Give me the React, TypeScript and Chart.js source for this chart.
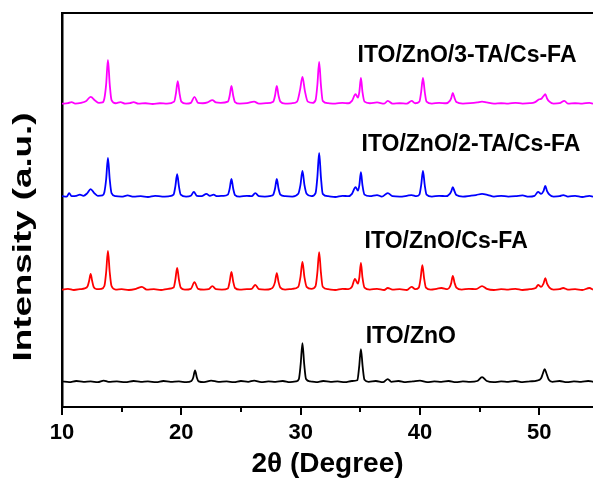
import { useEffect, useRef } from "react";
import { Chart, registerables } from "chart.js";

Chart.register(...registerables);

const FONT = '"Liberation Sans", Arial, Helvetica, sans-serif';

// Sample names (bottom to top) and their trace colours
const SERIES_NAMES = ["ITO/ZnO", "ITO/ZnO/Cs-FA", "ITO/ZnO/2-TA/Cs-FA", "ITO/ZnO/3-TA/Cs-FA"];
const SERIES_COLORS = ["#000000", "#ff0000", "#0000ff", "#ff00ff"];

// Vertical offset applied to each pattern so the traces are stacked
const STACK_OFFSETS = [63, 297, 533, 769];

// Diffraction patterns: [2θ (deg), relative intensity (a.u.)]
const ITO_ZNO: [number, number][] = [
  [10.0, 2], [10.6, 0], [11.2, 3], [11.8, 1], [12.4, 2], [13.0, 0], [13.5, 4], [13.9, 1], [14.6, 2], [15.3, 0],
  [16.0, 3], [16.6, 1], [17.2, 2], [17.9, 0], [18.5, 3], [19.1, 1], [19.8, 2], [20.4, 0], [20.85, 3], [21.0, 12], [21.15, 30],
  [21.3, 12], [21.45, 2], [21.9, 0], [22.5, 4], [23.1, 1], [23.8, 2], [24.4, 0], [25.0, 3], [25.6, 1], [26.1, 4], [26.7, 0],
  [27.3, 2], [27.9, 1], [28.5, 3], [29.1, 0], [29.6, 2], [29.85, 8], [30.0, 45], [30.15, 99], [30.3, 45], [30.45, 8], [30.8, 2], [31.3, 0],
  [31.9, 3], [32.5, 1], [33.1, 2], [33.7, 0], [34.3, 3], [34.75, 5], [34.9, 38], [35.05, 84], [35.2, 38], [35.35, 6], [35.7, 1], [36.3, 3],
  [36.9, 0], [37.3, 8], [37.6, 1], [38.2, 3], [38.8, 0], [39.4, 2], [40.0, 4], [40.6, 0], [41.2, 2], [41.8, 1],
  [42.4, 3], [43.0, 0], [43.6, 2], [44.2, 1], [44.8, 3], [45.2, 13], [45.6, 3], [46.2, 0], [46.8, 2], [47.4, 1],
  [48.0, 3], [48.6, 0], [49.2, 2], [49.8, 4], [50.15, 10], [50.3, 22], [50.45, 33], [50.6, 22], [50.8, 6], [51.1, 1], [51.7, 3], [52.3, 0],
  [52.9, 2], [53.5, 1], [54.1, 3], [54.5, 1],
];

const ITO_ZNO_CSFA: [number, number][] = [
  [10.0, 1], [10.5, 3], [11.0, 0], [11.5, 2], [11.9, 4], [12.15, 10], [12.28, 24], [12.4, 41], [12.52, 24], [12.65, 8], [12.9, 2], [13.3, 3],
  [13.55, 10], [13.7, 45], [13.85, 99], [14.0, 45], [14.15, 10], [14.5, 1], [15.0, 2], [15.6, 0], [16.2, 3], [16.7, 8], [17.1, 1], [17.7, 2],
  [18.3, 0], [18.9, 3], [19.35, 6], [19.5, 26], [19.65, 56], [19.8, 26], [19.95, 6], [20.3, 1], [20.8, 3], [21.1, 20], [21.4, 3], [21.9, 1],
  [22.3, 2], [22.6, 10], [22.9, 2], [23.4, 1], [23.9, 4], [24.05, 21], [24.2, 46], [24.35, 21], [24.5, 5], [24.9, 1], [25.5, 2], [25.9, 3],
  [26.2, 13], [26.5, 2], [27.0, 1], [27.5, 3], [27.7, 8], [27.85, 20], [28.0, 43], [28.15, 20], [28.3, 6], [28.7, 1], [29.3, 3], [29.8, 8],
  [29.98, 32], [30.15, 71], [30.32, 32], [30.5, 8], [30.9, 3], [31.25, 10], [31.4, 44], [31.55, 96], [31.7, 44], [31.85, 8], [32.3, 2], [32.9, 0], [33.5, 3], [34.0, 2],
  [34.3, 8], [34.55, 28], [34.8, 16], [34.92, 32], [35.05, 69], [35.18, 32], [35.35, 6], [35.8, 1], [36.4, 3], [37.0, 0], [37.3, 5], [37.7, 1],
  [38.3, 2], [38.9, 0], [39.3, 8], [39.6, 2], [39.9, 6], [40.05, 29], [40.2, 63], [40.35, 29], [40.5, 6], [40.9, 1], [41.4, 3], [41.8, 5],
  [42.3, 2], [42.5, 8], [42.62, 18], [42.75, 36], [42.9, 18], [43.05, 6], [43.5, 1], [44.1, 3], [44.7, 2], [45.2, 10], [45.6, 3], [46.2, 0],
  [46.8, 2], [47.4, 1], [48.0, 3], [48.6, 0], [49.2, 2], [49.7, 5], [49.9, 13], [50.15, 8], [50.35, 16], [50.5, 30], [50.65, 16], [50.85, 6],
  [51.2, 1], [51.7, 2], [52.0, 5], [52.4, 1], [53.0, 2], [53.6, 0], [54.2, 5], [54.5, 1],
];

const ITO_ZNO_2TA_CSFA: [number, number][] = [
  [10.0, 2], [10.4, 1], [10.6, 10], [10.8, 2], [11.2, 3], [11.5, 6], [11.8, 3], [12.1, 9], [12.4, 20], [12.7, 10],
  [13.0, 3], [13.4, 4], [13.55, 12], [13.7, 45], [13.85, 99], [14.0, 45], [14.15, 10], [14.5, 2], [15.0, 1], [15.5, 4], [16.0, 1], [16.6, 2],
  [17.2, 0], [17.8, 3], [18.4, 1], [19.0, 2], [19.35, 6], [19.5, 27], [19.65, 58], [19.8, 27], [19.95, 6], [20.4, 1], [20.8, 3], [21.05, 13],
  [21.3, 3], [21.7, 2], [22.1, 8], [22.4, 3], [22.7, 6], [23.0, 2], [23.5, 3], [23.9, 6], [24.05, 21], [24.2, 46], [24.35, 21], [24.5, 5],
  [24.9, 1], [25.5, 3], [25.9, 2], [26.2, 10], [26.5, 2], [27.0, 1], [27.5, 3], [27.7, 6], [27.85, 21], [28.0, 46], [28.15, 21], [28.3, 6],
  [28.7, 2], [29.3, 1], [29.8, 8], [29.98, 30], [30.15, 66], [30.32, 30], [30.5, 8], [30.9, 2], [31.25, 10], [31.4, 50], [31.55, 112], [31.7, 50], [31.85, 8], [32.3, 2],
  [32.9, 0], [33.5, 3], [34.0, 2], [34.3, 8], [34.6, 25], [34.8, 16], [34.92, 30], [35.05, 63], [35.18, 30], [35.35, 6], [35.8, 2], [36.4, 5],
  [36.8, 1], [37.3, 10], [37.7, 2], [38.3, 1], [38.9, 3], [39.3, 5], [39.7, 2], [39.95, 6], [40.1, 30], [40.25, 66], [40.4, 30], [40.55, 6],
  [41.0, 1], [41.6, 3], [42.2, 2], [42.5, 8], [42.62, 14], [42.75, 25], [42.9, 14], [43.05, 5], [43.6, 1], [44.2, 3], [44.7, 5], [45.2, 8],
  [45.7, 5], [46.2, 1], [46.8, 3], [47.4, 1], [48.0, 2], [48.6, 4], [49.1, 1], [49.6, 3], [49.9, 13], [50.15, 8], [50.35, 15],
  [50.5, 28], [50.65, 15], [50.85, 6], [51.2, 1], [51.7, 2], [52.0, 5], [52.4, 1], [53.0, 3], [53.6, 0], [54.2, 3], [54.5, 1],
];

const ITO_ZNO_3TA_CSFA: [number, number][] = [
  [10.0, 1], [10.5, 2], [10.8, 5], [11.1, 1], [11.6, 3], [12.0, 7], [12.4, 18], [12.8, 8], [13.1, 3], [13.4, 4],
  [13.55, 14], [13.7, 50], [13.85, 112], [14.0, 50], [14.15, 10], [14.5, 2], [14.9, 5], [15.3, 1], [15.7, 2], [16.0, 5], [16.4, 1], [17.0, 2],
  [17.6, 0], [18.2, 2], [18.8, 1], [19.4, 6], [19.55, 27], [19.7, 58], [19.85, 27], [20.0, 6], [20.4, 1], [20.8, 3], [21.1, 18], [21.4, 3],
  [21.8, 2], [22.2, 4], [22.6, 10], [22.9, 4], [23.3, 3], [23.9, 6], [24.05, 21], [24.2, 46], [24.35, 21], [24.5, 5], [24.9, 1], [25.5, 2],
  [26.1, 6], [26.5, 1], [27.1, 2], [27.7, 6], [27.85, 21], [28.0, 46], [28.15, 21], [28.3, 6], [28.7, 1], [29.3, 2], [29.7, 6], [29.95, 36],
  [30.15, 69], [30.35, 34], [30.6, 6], [31.0, 3], [31.25, 10], [31.4, 48], [31.55, 107], [31.7, 48], [31.85, 8], [32.3, 2], [32.9, 1], [33.5, 3],
  [34.0, 2], [34.3, 8], [34.6, 25], [34.8, 16], [34.92, 31], [35.05, 66], [35.18, 31], [35.35, 6], [35.8, 2], [36.4, 4], [37.0, 1], [37.3, 8],
  [37.7, 1], [38.3, 2], [38.9, 1], [39.3, 8], [39.6, 2], [39.95, 6], [40.1, 31], [40.25, 66], [40.4, 31], [40.55, 6], [41.0, 1], [41.6, 3],
  [42.2, 2], [42.5, 8], [42.62, 15], [42.75, 28], [42.9, 15], [43.05, 5], [43.6, 1], [44.2, 2], [44.8, 4], [45.2, 6], [45.6, 4], [46.2, 1],
  [46.8, 2], [47.4, 1], [48.0, 3], [48.6, 1], [49.2, 2], [49.6, 4], [50.0, 12], [50.2, 14], [50.35, 20], [50.5, 25], [50.65, 14], [50.85, 6],
  [51.2, 1], [51.7, 2], [52.1, 8], [52.4, 1], [53.0, 2], [53.6, 1], [54.2, 3], [54.5, 1],
];

const PATTERNS = [ITO_ZNO, ITO_ZNO_CSFA, ITO_ZNO_2TA_CSFA, ITO_ZNO_3TA_CSFA];

// Axis ticks (2θ)
const X_TICKS = [10, 20, 30, 40, 50];
const X_MINOR_TICKS = [15, 25, 35, 45];

// Where each sample name is written, in data units: [2θ of text start, intensity of text centre]
const LABEL_ANCHORS: [number, number][] = [
  [35.45, 178],
  [35.36, 419],
  [35.1, 665],
  [34.77, 891],
];

const xrdDecorations = {
  id: "xrdDecorations",
  afterDraw(chart: any) {
    const { ctx, chartArea } = chart;
    const xs = chart.scales.x;
    const ys = chart.scales.y;
    ctx.save();
    ctx.strokeStyle = "#000";
    ctx.fillStyle = "#000";

    // top frame line
    ctx.lineWidth = 2;
    ctx.beginPath();
    ctx.moveTo(chartArea.left - 1, chartArea.top);
    ctx.lineTo(chartArea.right, chartArea.top);
    ctx.stroke();

    // outward major / minor ticks on the 2θ axis
    const drawTick = (v: number, len: number) => {
      const px = Math.round(xs.getPixelForValue(v));
      ctx.beginPath();
      ctx.moveTo(px, chartArea.bottom);
      ctx.lineTo(px, chartArea.bottom + len);
      ctx.stroke();
    };
    X_TICKS.forEach((v) => drawTick(v, 8));
    X_MINOR_TICKS.forEach((v) => drawTick(v, 5));

    // sample names next to each trace
    ctx.font = `bold 23px ${FONT}`;
    ctx.textAlign = "left";
    ctx.textBaseline = "middle";
    chart.data.datasets.forEach((ds: any, i: number) => {
      const [ax, ay] = LABEL_ANCHORS[i];
      ctx.fillText(ds.label, xs.getPixelForValue(ax), ys.getPixelForValue(ay));
    });

    // vertical axis title
    const title = "Intensity (a.u.)";
    ctx.font = `bold 25px ${FONT}`;
    const w = ctx.measureText(title).width;
    const targetLen = 249;
    ctx.translate(24, chartArea.top + 224);
    ctx.rotate(-Math.PI / 2);
    ctx.scale(targetLen / w, 1);
    ctx.textAlign = "center";
    ctx.fillText(title, 0, 0);
    ctx.restore();
  },
};

export default function App() {
  const canvasRef = useRef<HTMLCanvasElement | null>(null);

  useEffect(() => {
    const canvas = canvasRef.current;
    if (!canvas) return;

    const datasets = PATTERNS.map((pattern, i) => ({
      label: SERIES_NAMES[i],
      data: pattern.map(([x, y]) => ({ x, y: y + STACK_OFFSETS[i] })),
      borderColor: SERIES_COLORS[i],
      backgroundColor: SERIES_COLORS[i],
      borderWidth: 1.8,
      pointRadius: 0,
      cubicInterpolationMode: "monotone" as const,
      fill: false,
    }));

    const chart = new Chart(canvas, {
      type: "line",
      data: { datasets },
      options: {
        animation: false,
        responsive: false,
        maintainAspectRatio: false,
        layout: { padding: { top: 13, right: 0, left: 0, bottom: 0 } },
        plugins: {
          legend: { display: false },
          tooltip: { enabled: false },
        },
        scales: {
          x: {
            type: "linear",
            min: 10,
            max: 54.5,
            grid: { display: false, drawTicks: false },
            border: { display: true, color: "#000", width: 2 },
            afterBuildTicks: (scale: any) => {
              scale.ticks = X_TICKS.map((value) => ({ value }));
            },
            afterFit: (scale: any) => {
              scale.height = 74;
            },
            ticks: {
              color: "#000",
              padding: 13,
              autoSkip: false,
              maxRotation: 0,
              font: { family: FONT, size: 22, weight: "bold" },
              callback: (v: any) => String(v),
            },
            title: {
              display: true,
              text: "2θ (Degree)",
              color: "#000",
              font: { family: FONT, size: 28, weight: "bold", lineHeight: 1 },
              padding: { top: 0, bottom: 3 },
            },
          },
          y: {
            type: "linear",
            min: 0,
            max: 1000,
            grid: { display: false, drawTicks: false },
            border: { display: true, color: "#000", width: 2.5 },
            ticks: { display: false },
            afterFit: (scale: any) => {
              scale.width = 62;
            },
            title: { display: false },
          },
        },
      },
      plugins: [xrdDecorations],
    });

    return () => chart.destroy();
  }, []);

  return (
    <div style={{ position: "fixed", left: 0, top: 0, width: 593, height: 481, background: "#fff" }}>
      <canvas ref={canvasRef} width={593} height={481} style={{ display: "block" }} />
    </div>
  );
}
